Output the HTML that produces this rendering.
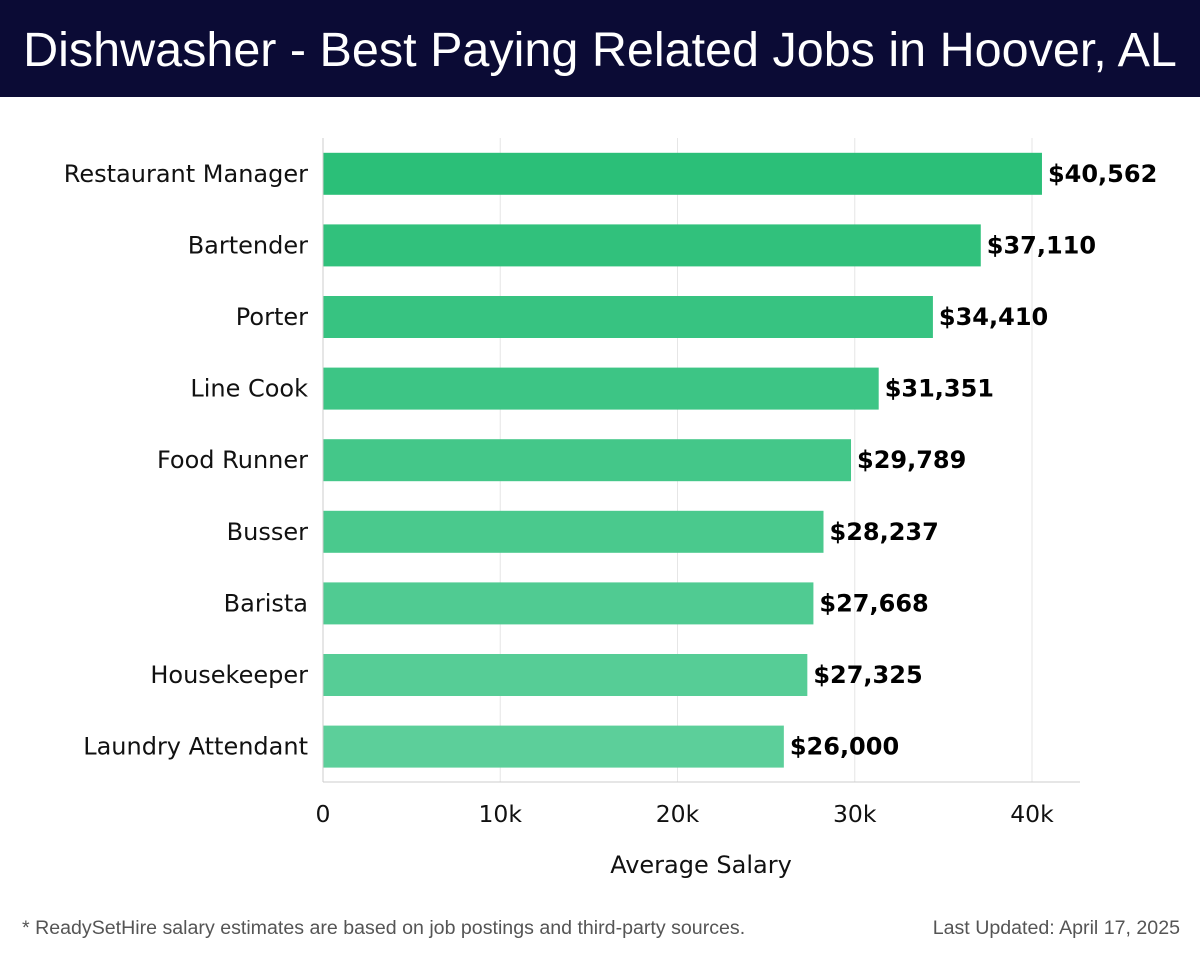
<!DOCTYPE html>
<html><head><meta charset="utf-8"><style>
body{margin:0;width:1200px;height:958px;background:#fff;font-family:"DejaVu Sans","Liberation Sans",sans-serif;overflow:hidden}
.title{position:absolute;left:0;top:0;width:1200px;height:97px;background:#0b0b35;color:#fff;font-size:48.5px;line-height:100px;text-align:center;font-family:"Liberation Sans",sans-serif;font-weight:normal}
svg{position:absolute;left:0;top:0}
.foot{position:absolute;top:917px;font-size:19.6px;color:#555;font-family:"Liberation Sans",sans-serif}
</style></head><body>
<div class="title">Dishwasher - Best Paying Related Jobs in Hoover, AL</div>
<svg id="c" width="1200" height="958"></svg>
<div class="foot" style="left:22px">* ReadySetHire salary estimates are based on job postings and third-party sources.</div>
<div class="foot" style="right:20px">Last Updated: April 17, 2025</div>
<script>
const categories=["Restaurant Manager","Bartender","Porter","Line Cook","Food Runner","Busser","Barista","Housekeeper","Laundry Attendant"];
const values=[40562,37110,34410,31351,29789,28237,27668,27325,26000];
const ticks=[0,10000,20000,30000,40000];
const tickLabels=["0","10k","20k","30k","40k"];
const NS="http://www.w3.org/2000/svg";
const svg=document.getElementById('c');
const x0=323,pxPerUnit=(1032-323)/40000;
const xs=v=>x0+v*pxPerUnit;
const top0=138,step=71.6,bh=42;
const yc=i=>top0+step*(i+0.5);
function mk(t,a){const e=document.createElementNS(NS,t);for(const k in a)e.setAttribute(k,a[k]);svg.appendChild(e);return e;}
ticks.forEach((t,i)=>{
 const g=mk('line',{x1:xs(t),x2:xs(t),y1:138,y2:782,stroke:'#e6e6e6','stroke-width':1});
 
 
 const l=mk('text',{x:xs(t),y:822,'text-anchor':'middle','font-size':23.5,fill:'#111'});
 l.textContent=tickLabels[i];
 
 
});
const c1=[43,191,120],c2=[92,207,154];
categories.forEach((c,i)=>{
 const f=i/(categories.length-1);
 const col=`rgb(${c1.map((v,k)=>Math.round(v+(c2[k]-v)*f)).join(',')})`;
 const b=mk('rect',{x:x0,y:yc(i)-bh/2,width:xs(values[i])-x0,height:bh,fill:col});
 
 
 const v=mk('text',{x:xs(values[i])+6,y:yc(i)+8,'font-size':24,'font-weight':'bold',fill:'#000'});
 v.textContent='$'+values[i].toLocaleString('en-US');
 
 
 const l=mk('text',{x:308,y:yc(i)+8,'text-anchor':'end','font-size':24,fill:'#111'});
 l.textContent=c;
 
 
});
const ax=mk('line',{x1:x0,x2:1080,y1:782,y2:782,stroke:'#ccc'});


const ay=mk('line',{x1:x0,x2:x0,y1:138,y2:782,stroke:'#ccc'});


const at=mk('text',{x:701,y:873,'text-anchor':'middle','font-size':24,fill:'#111'});
at.textContent='Average Salary';


</script>
</body></html>
